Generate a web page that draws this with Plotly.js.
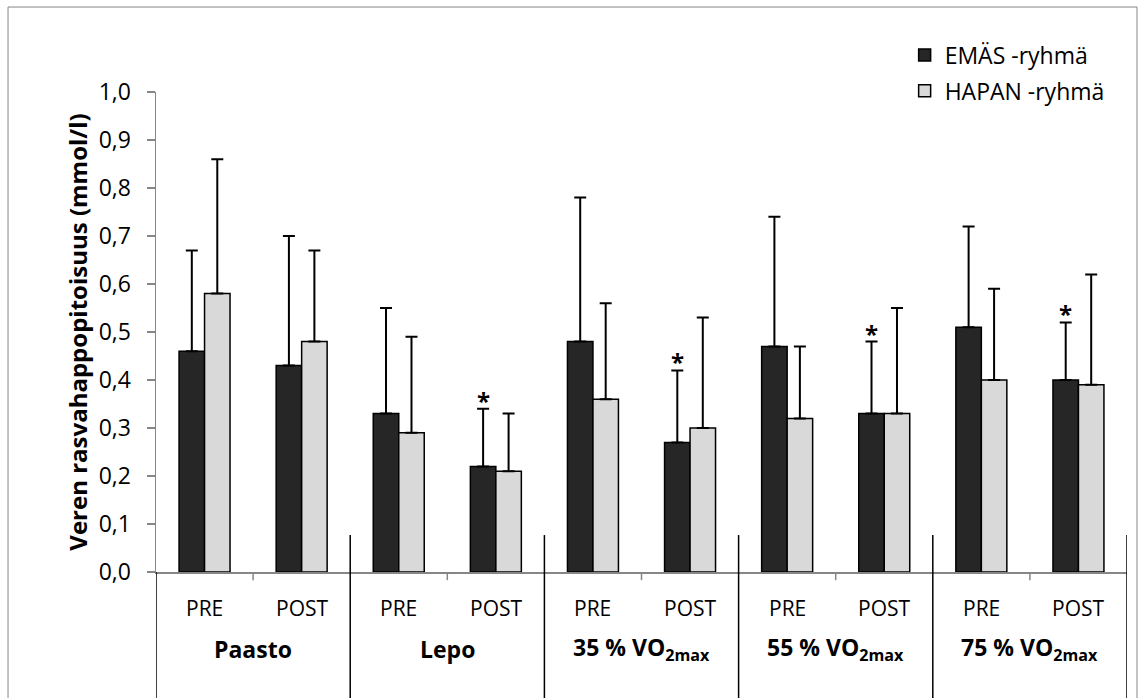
<!DOCTYPE html>
<html>
<head>
<meta charset="utf-8">
<script src="https://cdn.plot.ly/plotly-3.0.1.min.js"></script>
<style>html,body{margin:0;padding:0;background:#fff;}#chart{width:1146px;height:698px;}</style>
</head>
<body>
<div id="chart"></div>
<script>
// Data
const phases = ["PRE", "POST", "PRE", "POST", "PRE", "POST", "PRE", "POST", "PRE", "POST"];
const groups = ["Paasto", "Lepo", "35 % VO<sub>2max</sub>", "55 % VO<sub>2max</sub>", "75 % VO<sub>2max</sub>"];
const seriesNames = ["EMÄS -ryhmä", "HAPAN -ryhmä"];
const emasValues = [0.46, 0.43, 0.33, 0.22, 0.48, 0.27, 0.47, 0.33, 0.51, 0.40];
const emasErrors = [0.21, 0.27, 0.22, 0.12, 0.30, 0.15, 0.27, 0.15, 0.21, 0.12];
const hapanValues = [0.58, 0.48, 0.29, 0.21, 0.36, 0.30, 0.32, 0.33, 0.40, 0.39];
const hapanErrors = [0.28, 0.19, 0.20, 0.12, 0.20, 0.23, 0.15, 0.22, 0.19, 0.23];
const significantEmas = [false, false, false, true, false, true, false, true, false, true];
const yTicks = [0, 0.1, 0.2, 0.3, 0.4, 0.5, 0.6, 0.7, 0.8, 0.9, 1.0];

const FONT = "'Open Sans', 'Liberation Sans', sans-serif";
const idx = phases.map((_, i) => i);
const bargap = 0.475;
const barW = (1 - bargap) / 2;

const zeros = idx.map(() => 0);
function barTrace(name, vals, errs, color, grp) {
  return {
    type: 'bar', name: name, x: idx, y: vals, legendgroup: grp,
    marker: {color: color, line: {color: '#000', width: 1.5}},
    error_y: {type: 'data', symmetric: false, array: errs, arrayminus: zeros,
              color: '#000', thickness: 2, width: 6},
    hoverinfo: 'skip'
  };
}
const traces = [
  barTrace(seriesNames[0], emasValues, emasErrors, '#262626', 'a'),
  barTrace(seriesNames[1], hapanValues, hapanErrors, '#d9d9d9', 'b')
];

const annotations = [];
phases.forEach((p, i) => {
  annotations.push({x: i, y: -0.075, xref: 'x', yref: 'paper', text: p, showarrow: false,
    font: {family: FONT, size: 21, color: '#000'}, xanchor: 'center', yanchor: 'middle'});
  if (significantEmas[i]) {
    annotations.push({x: i - barW / 2, y: emasValues[i] + emasErrors[i], xref: 'x', yref: 'y',
      text: '<b>*</b>', showarrow: false, yanchor: 'bottom', yshift: -10,
      font: {family: FONT, size: 24, color: '#000'}});
  }
});
groups.forEach((g, k) => {
  annotations.push({x: 2 * k + 0.5, y: -0.16, xref: 'x', yref: 'paper', text: '<b>' + g + '</b>',
    showarrow: false, font: {family: FONT, size: 23, color: '#000'}, xanchor: 'center', yanchor: 'middle'});
});

const shapes = [];
// outer border
shapes.push({type: 'rect', xref: 'paper', yref: 'paper', x0: -0.1524, x1: 1.0103, y0: -0.4, y1: 1.177,
  line: {color: '#868686', width: 1}, fillcolor: 'rgba(0,0,0,0)', layer: 'below'});
// left axis extension
shapes.push({type: 'line', xref: 'x', yref: 'paper', x0: -0.5, x1: -0.5, y0: 0, y1: -0.4,
  line: {color: '#000', width: 1.5}});
groups.forEach((g, k) => {
  // minor tick between PRE and POST
  shapes.push({type: 'line', xref: 'x', yref: 'paper', x0: 2 * k + 0.5, x1: 2 * k + 0.5, y0: 0, y1: -0.017,
    line: {color: '#868686', width: 1.5}});
  // group separator
  shapes.push({type: 'line', xref: 'x', yref: 'paper', x0: 2 * k + 1.5, x1: 2 * k + 1.5, y0: 0.077, y1: -0.4,
    line: {color: '#000', width: 1.5}});
});

const layout = {
  width: 1146, height: 698,
  margin: {l: 156, r: 19, t: 92, b: 126},
  paper_bgcolor: '#fff', plot_bgcolor: '#fff',
  separators: ', ',
  barmode: 'group', bargap: bargap, bargroupgap: 0,
  showlegend: true,
  legend: {x: 0.771, y: 1.122, xanchor: 'left', yanchor: 'top', font: {family: FONT, size: 23, color: '#000'},
    bgcolor: 'rgba(0,0,0,0)', traceorder: 'grouped', tracegroupgap: 3, itemwidth: 30},
  xaxis: {range: [-0.5, 9.5], showticklabels: false, showgrid: false, zeroline: false,
    showline: true, linecolor: '#868686', linewidth: 1.5, ticks: '', fixedrange: true},
  yaxis: {range: [0, 1.0], tickvals: yTicks, tickformat: '.1f', showgrid: false, zeroline: false,
    showline: true, linecolor: '#868686', linewidth: 1.5, ticks: 'outside', ticklen: 8, tickcolor: '#868686',
    tickwidth: 1.5, ticklabelstandoff: 11, tickfont: {family: FONT, size: 23, color: '#000'},
    title: {text: '<b>Veren rasvahappopitoisuus (mmol/l)</b>', font: {family: FONT, size: 24, color: '#000'}, standoff: 4}},
  annotations: annotations,
  shapes: shapes
};

Plotly.newPlot('chart', traces, layout, {displayModeBar: false, staticPlot: true});
</script>
</body>
</html>
